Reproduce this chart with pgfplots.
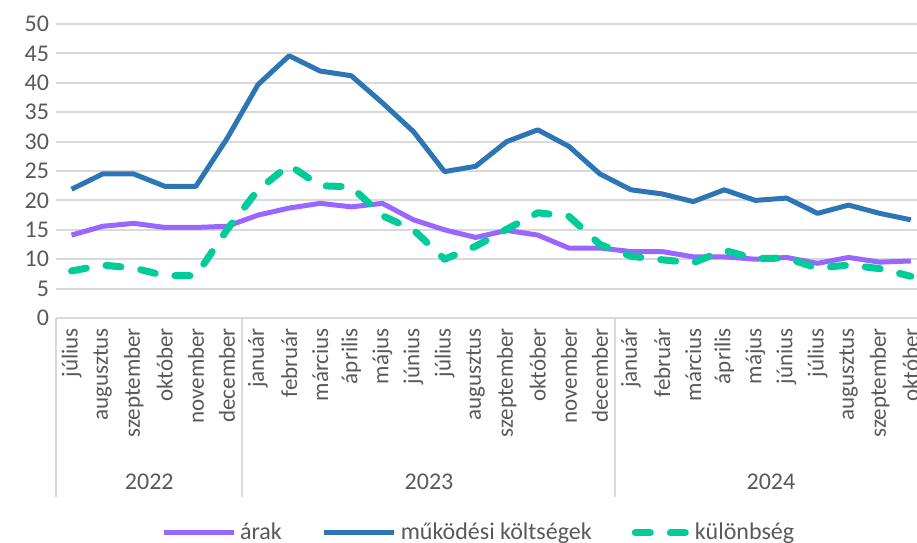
\documentclass[border=0pt]{standalone}
\usepackage{fontspec}
\setmainfont{Carlito}
\usepackage{pgfplots}
\pgfplotsset{compat=1.18}
\definecolor{arak}{RGB}{153,102,255}
\definecolor{mukod}{RGB}{46,117,182}
\definecolor{kul}{RGB}{0,204,153}
\definecolor{txt}{RGB}{89,89,89}
\definecolor{gridc}{RGB}{217,217,217}

\pgfplotstableread{
x arak mukod kul
0  14.1 21.9 8.0
1  15.6 24.5 9.0
2  16.1 24.5 8.5
3  15.4 22.4 7.2
4  15.4 22.4 7.2
5  15.6 30.5 15.0
6  17.5 39.7 21.8
7  18.7 44.6 26.0
8  19.5 42.0 22.5
9  18.9 41.2 22.3
10 19.5 36.6 17.4
11 16.7 31.7 15.0
12 15.0 24.9 10.0
13 13.7 25.8 12.2
14 14.9 30.0 15.1
15 14.1 32.0 17.9
16 11.9 29.2 17.3
17 11.9 24.5 12.5
18 11.3 21.8 10.5
19 11.3 21.1 9.9
20 10.4 19.8 9.4
21 10.4 21.8 11.5
22 10.0 20.0 10.1
23 10.3 20.4 10.2
24 9.3  17.8 8.5
25 10.3 19.2 9.0
26 9.5  17.8 8.4
27 9.7  16.7 7.1
}\datatable

\pgfplotsset{
  greenlegend/.style={legend image code/.code={\draw[##1] (2pt,0pt) -- (28pt,0pt);}},
}

\begin{document}
\begin{tikzpicture}
\begin{axis}[
  scale only axis, width=430.5pt, height=147pt,
  xmin=-0.5, xmax=27.2, ymin=0, ymax=50,
  clip=false,
  axis line style={draw=none},
  major tick length=0pt,
  ytick={0,5,...,50},
  ymajorgrids, grid style={gridc, line width=1pt},
  xtick={0,...,27},
  xticklabels={július, augusztus, szeptember, október, november, december, január, február, március, április, május, június, július, augusztus, szeptember, október, november, december, január, február, március, április, május, június, július, augusztus, szeptember, október},
  xticklabel style={rotate=90, anchor=east, font=\fontsize{11.5}{12}\selectfont, text=txt, xshift=-1.5pt},
  yticklabel style={font=\fontsize{12}{12}\selectfont, text=txt},
  /pgf/number format/assume math mode=true,
  legend columns=3,
  legend style={at={(0.492,-0.731)}, anchor=center, draw=none, fill=none,
    font=\fontsize{12}{14}\selectfont, text=txt,
    /tikz/every even column/.append style={column sep=18pt}},
  legend image code/.code={\draw[#1] (0pt,0pt) -- (35pt,0pt);},
]
\addplot[arak, line width=2.5pt, line join=round] table[x=x, y=arak] {\datatable};
\addlegendentry{árak}
\addplot[mukod, line width=2.5pt, line join=round] table[x=x, y=mukod] {\datatable};
\addlegendentry{működési költségek}
\addplot[kul, line width=3.5pt, line cap=round, line join=round, dash pattern=on 7.5pt off 10pt, greenlegend] table[x=x, y=kul] {\datatable};
\addlegendentry{különbség}

\draw[gridc, line width=1pt] (axis cs:-0.5,0) -- ([yshift=-89.5pt]axis cs:-0.5,0);
\draw[gridc, line width=1pt] (axis cs:5.5,0) -- ([yshift=-89.5pt]axis cs:5.5,0);
\draw[gridc, line width=1pt] (axis cs:17.5,0) -- ([yshift=-89.5pt]axis cs:17.5,0);
\node[text=txt, font=\fontsize{12}{12}\selectfont] at ([yshift=-82pt]axis cs:2.5,0) {2022};
\node[text=txt, font=\fontsize{12}{12}\selectfont] at ([yshift=-82pt]axis cs:11.5,0) {2023};
\node[text=txt, font=\fontsize{12}{12}\selectfont] at ([yshift=-82pt]axis cs:22.5,0) {2024};
\end{axis}
\pgfresetboundingbox
\useasboundingbox (-28pt,-112pt) rectangle (430.5pt,159pt);
\end{tikzpicture}
\end{document}
